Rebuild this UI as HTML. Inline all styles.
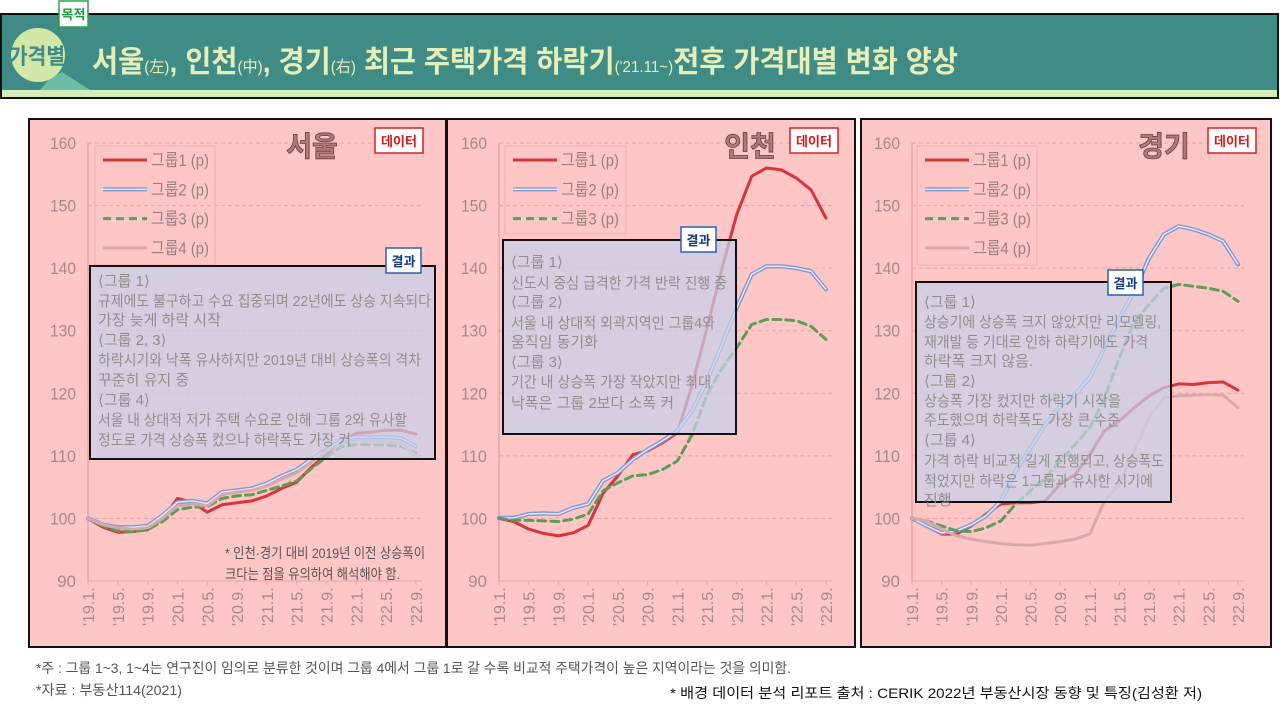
<!DOCTYPE html>
<html><head><meta charset="utf-8"><style>
html,body{margin:0;padding:0;background:#fff;}
svg{display:block;font-family:"Liberation Sans","Noto Sans CJK KR",sans-serif;}
</style></head><body>
<svg id="root" width="1280" height="711" viewBox="0 0 1280 711" xmlns="http://www.w3.org/2000/svg">
<g>
<rect x="1" y="14" width="1277" height="84" fill="#3e8c85" stroke="#111" stroke-width="2"/>
<rect x="2" y="90" width="1275" height="7" fill="#d4ecb8"/>
<polygon points="50,78 62,72 90,90 40,90" fill="#6cbda5"/>
<circle cx="38" cy="55" r="27" fill="#d2e7a8"/>
<text x="37" y="64" font-size="22" font-weight="bold" fill="#3e8c85" text-anchor="middle" textLength="56" lengthAdjust="spacingAndGlyphs">가격별</text>
<rect x="59" y="1" width="29" height="26" fill="#fff" stroke="#2aa050" stroke-width="1.5"/>
<text x="73.5" y="19" font-size="13" font-weight="bold" fill="#1a9a40" text-anchor="middle">목적</text>
<text x="92" y="72" font-size="30" font-weight="bold" fill="#e6efb8" textLength="866" lengthAdjust="spacingAndGlyphs">서울<tspan font-size="16" font-weight="normal">(左)</tspan>, 인천<tspan font-size="16" font-weight="normal">(中)</tspan>, 경기<tspan font-size="16" font-weight="normal">(右)</tspan> 최근 주택가격 하락기<tspan font-size="16" font-weight="normal">('21.11~)</tspan>전후 가격대별 변화 양상</text>
</g>
<g id="panels"></g>
<g>
<text x="36" y="673" font-size="14" fill="#555" textLength="755" lengthAdjust="spacingAndGlyphs">*주 : 그룹 1~3, 1~4는 연구진이 임의로 분류한 것이며 그룹 4에서 그룹 1로 갈 수록 비교적 주택가격이 높은 지역이라는 것을 의미함.</text>
<text x="36" y="695" font-size="14" fill="#555" textLength="146" lengthAdjust="spacingAndGlyphs">*자료 : 부동산114(2021)</text>
<text x="670" y="698" font-size="14" fill="#111" textLength="532" lengthAdjust="spacingAndGlyphs">* 배경 데이터 분석 리포트 출처 : CERIK 2022년 부동산시장 동향 및 특징(김성환 저)</text>
</g>
</svg>
<script>
// x-axis: bimonthly points '19.1 .. '22.9
const months = ["19.1","19.3","19.5","19.7","19.9","19.11","20.1","20.3","20.5","20.7","20.9","20.11","21.1","21.3","21.5","21.7","21.9","21.11","22.1","22.3","22.5","22.7","22.9"];
const xTickLabels = ["'19.1.","'19.5.","'19.9.","'20.1.","'20.5.","'20.9.","'21.1.","'21.5.","'21.9.","'22.1.","'22.5.","'22.9."];
const yTicks = [90,100,110,120,130,140,150,160];
const seriesNames = ["그룹1 (p)","그룹2 (p)","그룹3 (p)","그룹4 (p)"];

const seoulG1 = [100,98.6,97.8,97.9,98.2,100,103.2,102.6,101,102.2,102.5,102.8,103.6,104.8,105.8,108.2,110.2,112.5,113.6,113.8,114.1,114.1,113.5];
const seoulG2 = [100,99,98.6,98.6,98.8,100.5,102.6,102.8,102.4,104.2,104.5,104.8,105.6,106.8,107.8,109.5,111,112.5,113,113,113,112.8,111.5];
const seoulG3 = [100,98.8,98,97.9,98.2,99.5,101.4,101.8,101.9,103.2,103.6,103.8,104.5,105.2,106,108,109.8,111.5,111.8,111.8,111.7,111.5,110.5];
const seoulG4 = [100,99,98.5,98.3,98.5,100,102,102.3,102,103.8,104.2,104.5,105.2,106.3,107.3,109,110.8,112,112.5,112.5,112.3,112,110];

const incheonG1 = [100,99.5,98.3,97.6,97.2,97.7,98.9,104,106.8,110.2,110.8,112.1,113.7,121.4,130.5,140,148.6,154.7,156,155.7,154.4,152.5,148];
const incheonG2 = [100.1,100.1,100.7,100.8,100.7,101.7,102.3,106,107.3,109.4,111,112.4,114,117.2,122,127.8,133.7,139,140.3,140.3,140,139.5,136.6];
const incheonG3 = [100,99.7,99.7,99.6,99.5,99.9,100.7,104.4,105.7,106.8,107,107.8,109.2,113.4,119.8,124,127.3,131,131.8,131.8,131.6,130.7,128.6];

const gyeonggiG1 = [100,98.8,97.5,97.5,98.8,100.7,102.3,102.5,102.5,102.8,105.5,107,110.2,114,115.6,117.7,119.6,120.9,121.5,121.4,121.7,121.8,120.5];
const gyeonggiG2 = [100,98.8,97.7,98,99,100.4,102.8,107.6,111.3,115,118,119.8,122.5,127.3,132,136.3,141.6,145.4,146.7,146.2,145.4,144.3,140.6];
const gyeonggiG3 = [100,99.6,98.8,98,97.9,98.5,99.6,102.3,104.4,106.5,109.2,111.8,114.5,119.3,125.7,131.5,134.2,136.8,137.4,137.1,136.8,136.3,134.7];
const gyeonggiG4 = [100,99.6,98.3,97.2,96.7,96.3,96,95.8,95.7,96,96.3,96.7,97.5,102.8,105.5,110.8,116.1,119.3,119.6,119.7,119.8,119.7,117.7];

const NS='http://www.w3.org/2000/svg';
function mk(tag,attrs,parent){const e=document.createElementNS(NS,tag);for(const k in attrs)e.setAttribute(k,attrs[k]);if(parent)parent.appendChild(e);return e;}

const panels=[
 {key:'seoul',title:'서울',px:29,pw:417,x0:88,x1:416,titleX:312,dataX:375,series:[seoulG1,seoulG2,seoulG3,seoulG4],legend:{x:95,w:120,h:119},
  box:{x:90,y:266,w:345,h:193,tagX:386,tagY:248},
  lines:[["⟨그룹 1⟩",281],["규제에도 불구하고 수요 집중되며 22년에도 상승 지속되다",301,333],["가장 늦게 하락 시작",320],["⟨그룹 2, 3⟩",340],["하락시기와 낙폭 유사하지만 2019년 대비 상승폭의 격차",360,323],["꾸준히 유지 중",380],["⟨그룹 4⟩",400],["서울 내 상대적 저가 주택 수요로 인해 그룹 2와 유사할",420,309],["정도로 가격 상승폭 컸으나 하락폭도 가장 커",440,253]],
  note:true},
 {key:'incheon',title:'인천',px:447,pw:408,x0:499,x1:826,titleX:750,dataX:790,series:[incheonG1,incheonG2,incheonG3],legend:{x:505,w:121,h:88},
  box:{x:503,y:240,w:233,h:194,tagX:681,tagY:227},
  lines:[["⟨그룹 1⟩",262],["신도시 중심 급격한 가격 반락 진행 중",283,216],["⟨그룹 2⟩",302],["서울 내 상대적 외곽지역인 그룹4와",323,204],["움직임 동기화",342],["⟨그룹 3⟩",362],["기간 내 상승폭 가장 작았지만 최대",382,200],["낙폭은 그룹 2보다 소폭 커",403]]},
 {key:'gyeonggi',title:'경기',px:861,pw:410,x0:912,x1:1238,titleX:1164,dataX:1208,series:[gyeonggiG1,gyeonggiG2,gyeonggiG3,gyeonggiG4],legend:{x:917,w:120,h:119},
  box:{x:916,y:282,w:255,h:220,tagX:1108,tagY:270},
  lines:[["⟨그룹 1⟩",302],["상승기에 상승폭 크지 않았지만 리모델링,",322,237],["재개발 등 기대로 인하 하락기에도 가격",342,224],["하락폭 크지 않음.",361],["⟨그룹 2⟩",381],["상승폭 가장 컸지만 하락기 시작을",401,197],["주도했으며 하락폭도 가장 큰 수준",420,196],["⟨그룹 4⟩",440],["가격 하락 비교적 길게 진행되고, 상승폭도",461,240],["적었지만 하락은 1그룹과 유사한 시기에",481,229],["진행",500]]}
];
const Y0=581,Y1=143; // pixel for 90 and 160
const yScale=v=>Y0-(v-90)/(160-90)*(Y0-Y1);
const styles=[{c:'#d8343c',w:3},{c:'#7a9ad8',w:4.2,inner:'#f4e8f0'},{c:'#5a9e5a',w:3,dash:'8 5'},{c:'#d9a9aa',w:3}];
const root=document.getElementById('panels');

panels.forEach(p=>{
 const g=mk('g',{},root);
 
 
 const bg=mk('rect',{x:p.px,y:119,width:p.pw,height:528,fill:'#ffc6c6',stroke:'#111','stroke-width':2},g);
 
 
 const xScale=i=>p.x0+i*(p.x1-p.x0)/(months.length-1);
 yTicks.forEach(t=>{
  const y=yScale(t);
  const gl=mk('line',{x1:p.x0,x2:p.x1+6,y1:y,y2:y,stroke:'#eaa4a4','stroke-width':1,'stroke-dasharray':t===90?'':'4 3'},g);
  
  
  const a={x:p.x0-12,y:y+6,'font-size':17,fill:'#a88888','text-anchor':'end'};
  if(t>=100){a.textLength=26;a.lengthAdjust='spacingAndGlyphs';}
  const tl=mk('text',a,g);
  tl.textContent=t;
  
  
 });
 const ax=mk('line',{x1:p.x0,x2:p.x0,y1:Y1,y2:Y0,stroke:'#eaa4a4','stroke-width':1.5},g);
 
 
 xTickLabels.forEach((lab,k)=>{
  const x=xScale(k*2);
  const tk=mk('line',{x1:x,x2:x,y1:Y0,y2:Y0+4,stroke:'#eaa4a4'},g);
  
  
  const t=mk('text',{x:0,y:0,'font-size':16,fill:'#a88888',transform:`translate(${x+6},626) rotate(-90)`},g);
  t.textContent=lab;
  
  
 });
 p.series.forEach((s,si)=>{
  const st=styles[si];
  const d=s.map((v,i)=>(i?'L':'M')+xScale(i).toFixed(1)+','+yScale(v).toFixed(1)).join(' ');
  const path=mk('path',{d:d,fill:'none',stroke:st.c,'stroke-width':st.w,'stroke-linejoin':'round','stroke-linecap':'round'},g);
  if(st.dash)path.setAttribute('stroke-dasharray',st.dash);
  
  
  if(st.inner){const ip=mk('path',{d:d,fill:'none',stroke:st.inner,'stroke-width':1.4,'stroke-linejoin':'round'},g);
   
   }
 });
 const lg=mk('g',{},g);
 
 
 mk('rect',{x:p.legend.x,y:146,width:p.legend.w,height:p.legend.h,fill:'none',stroke:'#eeb0b0'},lg);
 p.series.forEach((s,si)=>{
  const st=styles[si];const y=160+si*29.3;
  const l=mk('line',{x1:p.legend.x+8,x2:p.legend.x+52,y1:y,y2:y,stroke:st.c,'stroke-width':st.w},lg);
  if(st.dash)l.setAttribute('stroke-dasharray',st.dash);
  
  
  if(st.inner){const il=mk('line',{x1:p.legend.x+8,x2:p.legend.x+52,y1:y,y2:y,stroke:st.inner,'stroke-width':1.4},lg);
   
   }
  const t=mk('text',{x:p.legend.x+56,y:y+6,'font-size':17,fill:'#9a8080',textLength:58,lengthAdjust:'spacingAndGlyphs'},lg);
  t.textContent=seriesNames[si];
  
  
 });
 const tt=mk('text',{x:p.titleX,y:156,'font-size':28,'font-weight':'bold',fill:'#b07a78',stroke:'#6a3a3a','stroke-width':0.8,'text-anchor':'middle'},g);
 tt.textContent=p.title;
 
 
 const db=mk('rect',{x:p.dataX,y:128,width:48,height:25,fill:'#fff',stroke:'#d82020','stroke-width':1.5},g);
 
 
 const dt=mk('text',{x:p.dataX+24,y:146,'font-size':13,'font-weight':'bold',fill:'#d81818','text-anchor':'middle'},g);
 dt.textContent='데이터';
 
 
 const b=p.box;
 const br=mk('rect',{x:b.x,y:b.y,width:b.w,height:b.h,fill:'#c8d0ea','fill-opacity':0.72,stroke:'#111','stroke-width':2},g);
 
 
 p.lines.forEach(ln=>{
  const a={x:b.x+8,y:ln[1]+5,'font-size':15,fill:'#8e8e8e'};
  if(ln[2]){a.textLength=ln[2];a.lengthAdjust='spacingAndGlyphs';}
  const t=mk('text',a,g);
  t.textContent=ln[0];
  
  
 });
 const rt=mk('rect',{x:b.tagX,y:b.tagY,width:35,height:25,fill:'#fff',stroke:'#2a60b0','stroke-width':1.5},g);
 
 
 const rtt=mk('text',{x:b.tagX+17.5,y:b.tagY+18,'font-size':13,'font-weight':'bold',fill:'#123a80','text-anchor':'middle'},g);
 rtt.textContent='결과';
 
 
 if(p.note){
  [["* 인천·경기 대비 2019년 이전 상승폭이",558],["크다는 점을 유의하여 해석해야 함.",579]].forEach((n,k)=>{
   const t=mk('text',{x:225,y:n[1],'font-size':14,fill:'#555',textLength:k?175:200,lengthAdjust:'spacingAndGlyphs'},g);
   t.textContent=n[0];
   
   
  });
 }
});
</script>
</body></html>
